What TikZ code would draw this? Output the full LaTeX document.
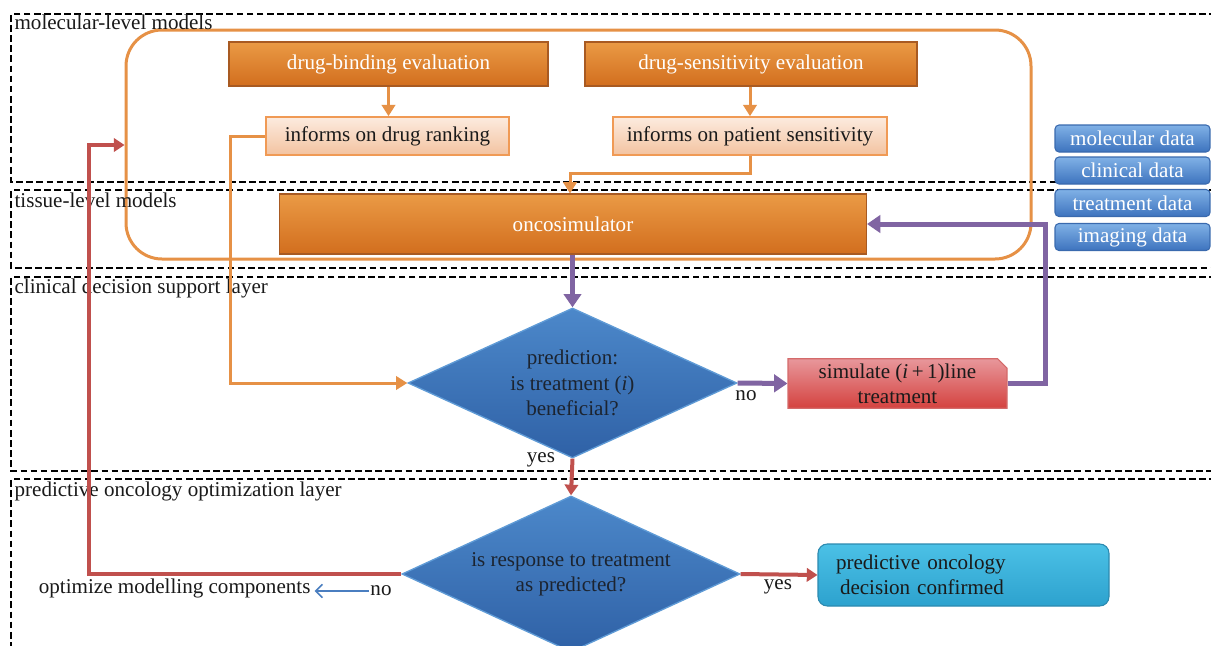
\documentclass[tikz,border=0pt]{standalone}
\usepackage{fontspec}
\setmainfont{Liberation Serif}
\usetikzlibrary{arrows.meta,shapes.geometric,shapes.misc,calc}
\definecolor{oline}{HTML}{E69146}
\definecolor{ortop}{HTML}{EA9A45}
\definecolor{orbot}{HTML}{D26E1E}
\definecolor{orbord}{HTML}{A85A22}
\definecolor{peachtop}{HTML}{FCEBDF}
\definecolor{peachbot}{HTML}{F3C3A0}
\definecolor{peachbord}{HTML}{F09A55}
\definecolor{purp}{HTML}{8064A2}
\definecolor{redl}{HTML}{C0504D}
\definecolor{diatop}{HTML}{4C88CA}
\definecolor{diabot}{HTML}{2F61A6}
\definecolor{diabord}{HTML}{5F9BD6}
\definecolor{diatext}{HTML}{1C2430}
\definecolor{simtop}{HTML}{E8979B}
\definecolor{simbot}{HTML}{D4423F}
\definecolor{simbord}{HTML}{D46A6A}
\definecolor{conftop}{HTML}{4BC1E6}
\definecolor{confbot}{HTML}{2DA2CE}
\definecolor{confbord}{HTML}{2C8AB0}
\definecolor{datatop}{HTML}{80B1E6}
\definecolor{databot}{HTML}{3D73BE}
\definecolor{databord}{HTML}{3A6AAE}
\definecolor{bluearr}{HTML}{4A7EC0}
\definecolor{txt}{HTML}{1A1A1A}
\begin{document}
\begin{tikzpicture}[x=0.75pt,y=-0.75pt,
  font=\fontsize{15.8}{19}\selectfont,
  layer/.style={dash pattern=on 5pt off 2.6pt, line width=1.1pt, black},
  sz/.style 2 args={minimum width=#1*0.75pt, minimum height=#2*0.75pt},
  orbox/.style={draw=orbord, line width=0.8pt, top color=ortop, bottom color=orbot, text=white, inner sep=0pt},
  pbox/.style={draw=peachbord, line width=1.2pt, top color=peachtop, bottom color=peachbot, text=txt, inner sep=0pt},
  dia/.style={diamond, aspect=2.2, draw=diabord, line width=1pt, top color=diatop, bottom color=diabot, inner sep=0pt, align=center, text=diatext},
  databox/.style={rounded corners=3pt, draw=databord, line width=0.8pt, top color=datatop, bottom color=databot, text=white, inner sep=0pt},
  lbl/.style={inner sep=1pt, text=txt},
  oarrow/.style={draw=oline, line width=2.25pt, -{Triangle[width=10pt,length=8.5pt]}},
  parrow/.style={draw=purp, line width=3.75pt, -{Triangle[width=13pt,length=10pt]}},
  rarrow/.style={draw=redl, line width=3pt, -{Triangle[width=10pt,length=8pt]}},
  barrow/.style={draw=bluearr, line width=1.2pt, -{Straight Barb[length=5pt,width=10pt]}}
]
\useasboundingbox (0,0) rectangle (1211,646);
\clip (0,0) rectangle (1211,646);
\fill[white] (0,0) rectangle (1211,646);

% layers
\draw[layer] (1216,14) -- (11,14) -- (11,182) -- (1216,182);
\draw[layer] (1216,190) -- (11,190) -- (11,268) -- (1216,268);
\draw[layer] (1216,277) -- (11,277) -- (11,471) -- (1216,471);
\draw[layer] (1216,479) -- (11,479) -- (11,660);

% big orange rounded frame
\node[draw=oline, line width=2.25pt, rounded corners=27pt, sz={905}{229}] (mol) at (578.5,144.5) {};

\node[lbl, anchor=base west] (l1) at (13,30) {molecular-level models};
\node[lbl, anchor=base west] (l2) at (13,207) {tissue-level models};
\node[lbl, anchor=base west] (l3) at (13,293) {clinical decision support layer};
\node[lbl, anchor=base west] (l4) at (13,496) {predictive oncology optimization layer};

% boxes
\node[orbox, sz={319}{44}] (db) at (388.5,64) {drug-binding evaluation};
\node[orbox, sz={332}{44}] (ds) at (751,64) {drug-sensitivity evaluation};
\node[pbox, sz={243}{38}] (dr) at (387.5,136) {informs on drug ranking};
\node[pbox, sz={274}{38}] (ps) at (750,136) {informs on patient sensitivity};
\node[orbox, sz={587}{60}] (onco) at (573,224) {oncosimulator};

\node[dia, sz={329}{150}] (d1) at (572.5,383) {prediction:\\is treatment (\textit{i})\\beneficial?};
\node[chamfered rectangle, chamfered rectangle corners=north east, chamfered rectangle xsep=3.5pt, chamfered rectangle ysep=3.5pt,
      draw=simbord, line width=0.8pt, top color=simtop, bottom color=simbot, text=txt, align=center, inner sep=0pt,
      sz={219}{47}] (sim) at (897.5,383.5) {simulate (\textit{i}\,+\,1)line\\treatment};
\node[dia, sz={338}{156}] (d2) at (571,574) {is response to treatment\\as predicted?};
\node[rounded corners=7pt, draw=confbord, line width=0.8pt, top color=conftop, bottom color=confbot, text=txt,
      sz={291}{62}, text width=255*0.75pt, align=left, inner sep=0pt] (conf) at (963.5,575) {predictive oncology\\\hspace{3pt}decision confirmed};

% data boxes
\node[databox, sz={155}{27}] (md) at (1132.5,138.5) {molecular data};
\node[databox, sz={155}{27}] (cd) at (1132.5,170.5) {clinical data};
\node[databox, sz={155}{27}] (td) at (1132.5,203) {treatment data};
\node[databox, sz={155}{27}] (id) at (1132.5,237) {imaging data};

% labels
\node[lbl] (no1) at (746,396) {no};
\node[lbl] (yes1) at (541,460) {yes};
\node[lbl] (no2) at (381,591) {no};
\node[lbl] (yes2) at (778,587) {yes};
\node[lbl, anchor=east] (opt) at (312,588) {optimize modelling components};

% connectors
\draw[oarrow] (db.south) -- (db.south |- dr.north);
\draw[oarrow] (ds.south -| ps.south) -- (ps.north);
\coordinate (c1) at (570,173);
\draw[oarrow] (ps.south) |- (c1) -- (c1 |- onco.north);
\coordinate (c2) at (230,136);
\draw[oarrow] (dr.west) -- (dr.west -| c2) |- (d1.west);

\draw[parrow] (onco.south -| d1.north) -- (d1.north);
\draw[parrow] (d1.east) -- (sim.west);
\coordinate (c3) at (1045,300);
\draw[parrow] (sim.east) -- (sim.east -| c3) |- (onco.east);

\draw[rarrow] (d1.south) -- (d2.north);
\coordinate (c4) at (89,145);
\draw[rarrow] (d2.west) -| (c4) -- (c4 -| mol.west);
\draw[rarrow] (d2.east) -- (conf.west);

\draw[barrow] (no2.west) -- ([xshift=2pt]no2.west -| opt.east);
\end{tikzpicture}
\end{document}
